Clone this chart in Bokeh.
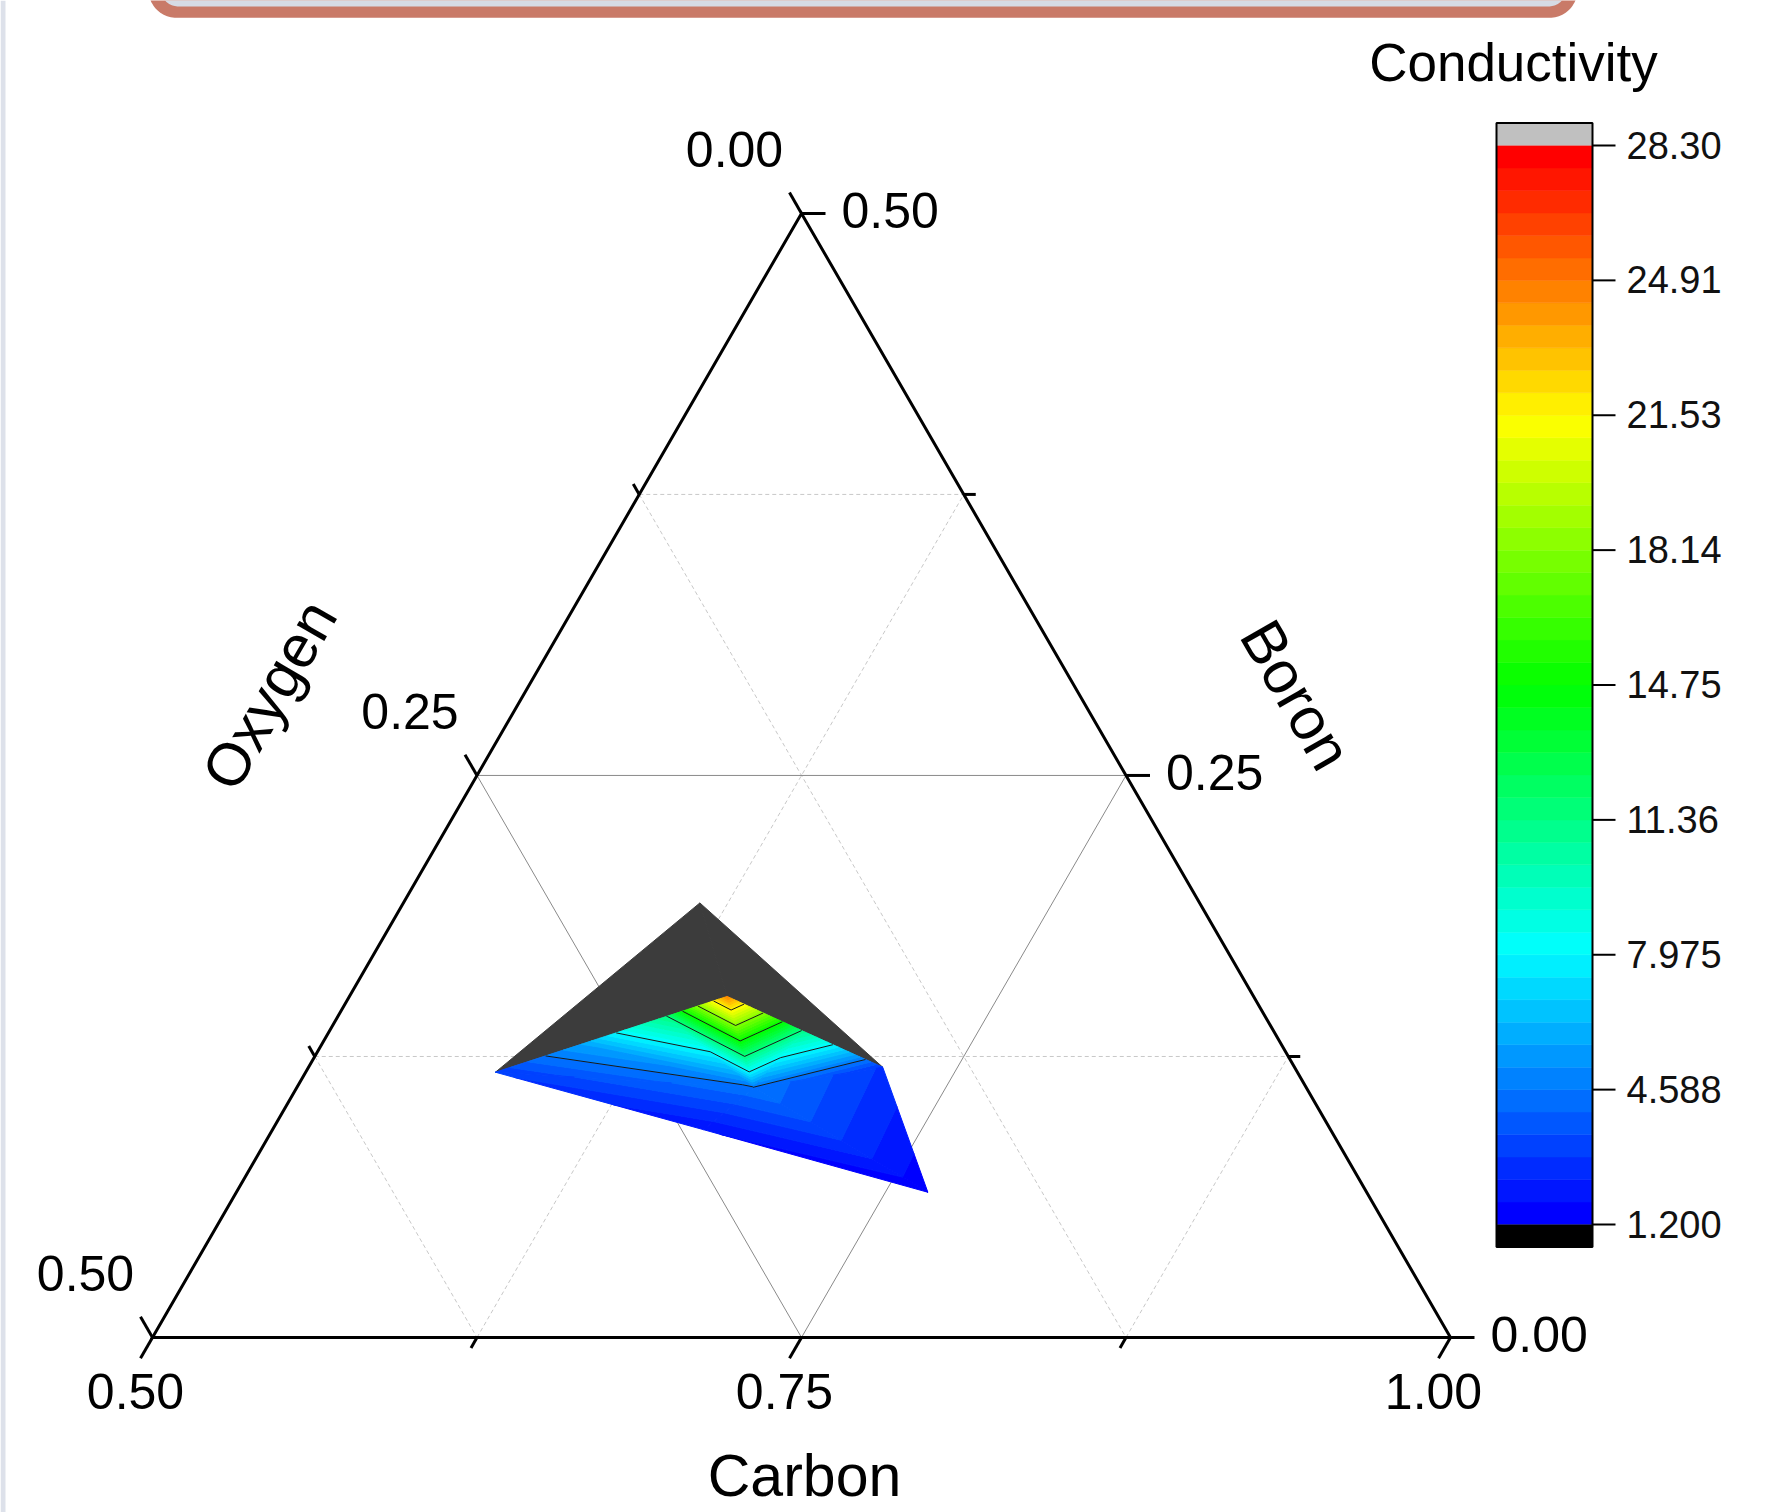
import numpy as np
from bokeh.plotting import figure
from bokeh.models import Range1d
from bokeh.embed import file_html
from bokeh.resources import INLINE
from bokeh.core.properties import value

nan = float("nan")

# ---------------- data ----------------
# measured compositions (fractions) and conductivity; NaN = no value
carbon = [0.5731, 0.6008, 0.6268, 0.6455, 0.6828, 0.7212, 0.7663, 0.6761, 0.6662, 0.6142]
oxygen = [0.3089, 0.2685, 0.2303, 0.2028, 0.1811, 0.1586, 0.1690, 0.2128, 0.2414, 0.1925]
boron = [0.1180, 0.1308, 0.1429, 0.1517, 0.1361, 0.1202, 0.0646, 0.1111, 0.0924, 0.1933]
conductivity = [3.0, 5.8, 11.4, 24.5, 11.0, 2.8, 1.3, 4.5, 1.8, nan]
triangles = [
    (0, 9, 3), (3, 9, 5),
    (0, 1, 7), (1, 2, 7), (2, 3, 7), (3, 4, 7),
    (4, 5, 7), (5, 6, 7), (7, 6, 8), (0, 7, 8),
]

carbon_ticks = [0.50, 0.75, 1.00]
carbon_minor = [0.625, 0.875]
boron_ticks = [0.00, 0.25, 0.50]
boron_minor = [0.125, 0.375]
oxygen_ticks = [0.00, 0.25, 0.50]
oxygen_minor = [0.125, 0.375]

level_min, level_max, n_bands = 1.2, 28.3, 48
line_every = 6
colorbar_labels = ["1.200", "4.588", "7.975", "11.36", "14.75", "18.14", "21.53", "24.91", "28.30"]
palette_stops = ["#0000ff", "#00ffff", "#00ff00", "#ffff00", "#ff0000"]
over_color, under_color, missing_color = "#c0c0c0", "#000000", "#3c3c3c"

FONT = value("Liberation Sans")

# ---------------- layout ----------------
S = 1298.0                 # px per ternary unit
PX0, PY0 = 152.0, 1337.0   # page position of the (0,0) corner
W, H = 1769, 1512


def tern_xy(c, o, b):
    c = np.asarray(c, float)
    o = np.asarray(o, float)
    b = np.asarray(b, float)
    s = c + o + b
    return 2 * c / s - 1 + b / s, np.sqrt(3) * b / s


def page(xp, yp):
    return (np.asarray(xp, float) - PX0) / S, (PY0 - np.asarray(yp, float)) / S


p = figure(width=W, height=H,
           x_range=Range1d((0 - PX0) / S, (W - PX0) / S),
           y_range=Range1d((PY0 - H) / S, PY0 / S),
           x_axis_type=None, y_axis_type=None,
           output_backend="svg", toolbar_location=None, min_border=0)
p.outline_line_color = None
p.background_fill_color = "white"
p.border_fill_color = "white"

# colorbar ranges
CB_LEFT, CB_W = 1496.0, 96.0
K = 1079.0 / (level_max - level_min)
CB_TOP_TICK = 145.0
p.extra_x_ranges = {"cbx": Range1d((0 - CB_LEFT) / CB_W, (W - CB_LEFT) / CB_W)}
p.extra_y_ranges = {"cby": Range1d(level_max - (H - CB_TOP_TICK) / K,
                                   level_max + CB_TOP_TICK / K)}

# ---------------- decoration: page edge strip and banner ----------------
sx, sy = page([0, 5, 5, 0], [0, 0, H, H])
p.patch(list(sx), list(sy), fill_color="#dde1ea", line_color=None)


def rounded_bottom(x0, x1, ybot, rad, ytop=-60.0):
    a1 = np.linspace(np.pi, 0.5 * np.pi, 24)
    a2 = np.linspace(0.5 * np.pi, 0.0, 24)
    xs = [x0] + list(x0 + rad + rad * np.cos(a1)) + list(x1 - rad + rad * np.cos(a2)) + [x1]
    ys = [ytop] + list(ybot - rad + rad * np.sin(a1)) + list(ybot - rad + rad * np.sin(a2)) + [ytop]
    return page(xs, ys)


ox_, oy_ = rounded_bottom(148.0, 1577.0, 17.3, 28.0)
p.patch(list(ox_), list(oy_), fill_color="#c97a68", line_color=None)
ix_, iy_ = rounded_bottom(160.0, 1566.0, 6.0, 18.0)
p.patch(list(ix_), list(iy_), fill_color="#d6dbe5", line_color=None)

# ---------------- grid lines ----------------
def const_b(b0):
    return tern_xy([0.5, 1 - b0], [0.5 - b0, 0], [b0, b0])


def const_o(o0):
    return tern_xy([0.5, 1 - o0], [o0, o0], [0.5 - o0, 0])


def const_c(c0):
    return tern_xy([c0, c0], [1 - c0, 0], [0, 1 - c0])


maj_xs, maj_ys, min_xs, min_ys = [], [], [], []
for b0 in boron_ticks[1:-1]:
    gx, gy = const_b(b0); maj_xs.append(list(gx)); maj_ys.append(list(gy))
for o0 in oxygen_ticks[1:-1]:
    gx, gy = const_o(o0); maj_xs.append(list(gx)); maj_ys.append(list(gy))
for c0 in carbon_ticks[1:-1]:
    gx, gy = const_c(c0); maj_xs.append(list(gx)); maj_ys.append(list(gy))
for b0 in boron_minor:
    gx, gy = const_b(b0); min_xs.append(list(gx)); min_ys.append(list(gy))
for o0 in oxygen_minor:
    gx, gy = const_o(o0); min_xs.append(list(gx)); min_ys.append(list(gy))
for c0 in carbon_minor:
    gx, gy = const_c(c0); min_xs.append(list(gx)); min_ys.append(list(gy))

p.multi_line(min_xs, min_ys, line_color="#c8c8c8", line_width=1, line_dash="4 3")
p.multi_line(maj_xs, maj_ys, line_color="#8a8a8a", line_width=1)

# ---------------- filled contour (linear on triangles) ----------------
levels = np.linspace(level_min, level_max, n_bands + 1)
stops = np.array([[int(h[i:i + 2], 16) for i in (1, 3, 5)] for h in palette_stops], float)
spos = np.linspace(0, 1, len(stops))
band_colors = []
for k in range(n_bands):
    t = k / (n_bands - 1)
    rgb = [int(round(np.interp(t, spos, stops[:, j]))) for j in range(3)]
    band_colors.append("#%02x%02x%02x" % tuple(rgb))

X, Y = tern_xy(carbon, oxygen, boron)
Z = np.array(conductivity, float)


def clip(poly, lv, keep_above):
    out = []
    n = len(poly)
    for i in range(n):
        P, Q = poly[i], poly[(i + 1) % n]
        pin = P[2] >= lv if keep_above else P[2] <= lv
        qin = Q[2] >= lv if keep_above else Q[2] <= lv
        if pin:
            out.append(P)
        if pin != qin:
            t = (lv - P[2]) / (Q[2] - P[2])
            out.append((P[0] + t * (Q[0] - P[0]), P[1] + t * (Q[1] - P[1]), lv))
    return out


bounds = [-np.inf] + list(levels) + [np.inf]
bcolors = [under_color] + band_colors + [over_color]
pxs, pys, pcs = [], [], []
mxs, mys = [], []
lxs, lys = [], []
line_levels = levels[::line_every]
for (i, j, k) in triangles:
    zs = Z[[i, j, k]]
    if np.any(np.isnan(zs)):
        mxs.append([X[i], X[j], X[k]]); mys.append([Y[i], Y[j], Y[k]])
        continue
    poly = [(X[i], Y[i], Z[i]), (X[j], Y[j], Z[j]), (X[k], Y[k], Z[k])]
    for bi in range(len(bounds) - 1):
        lo, hi = bounds[bi], bounds[bi + 1]
        if zs.max() < lo or zs.min() > hi:
            continue
        q = poly
        if np.isfinite(lo):
            q = clip(q, lo, True)
        if len(q) >= 3 and np.isfinite(hi):
            q = clip(q, hi, False)
        if len(q) >= 3:
            pxs.append([v[0] for v in q]); pys.append([v[1] for v in q]); pcs.append(bcolors[bi])
    for lv in line_levels:
        pts = []
        for a, b in ((i, j), (j, k), (k, i)):
            if (Z[a] - lv) * (Z[b] - lv) < 0:
                t = (lv - Z[a]) / (Z[b] - Z[a])
                pts.append((X[a] + t * (X[b] - X[a]), Y[a] + t * (Y[b] - Y[a])))
        if len(pts) == 2:
            lxs.append([pts[0][0], pts[1][0]]); lys.append([pts[0][1], pts[1][1]])

p.patches(mxs, mys, fill_color=missing_color, line_color=missing_color, line_width=1)
p.patches(pxs, pys, fill_color=pcs, line_color=pcs, line_width=1)
p.multi_line(lxs, lys, line_color="#1a1a1a", line_width=1)

# ---------------- triangle frame and ticks ----------------
vx, vy = tern_xy([0.5, 1.0, 0.5], [0.5, 0.0, 0.0], [0.0, 0.0, 0.5])
p.patch(list(vx), list(vy), fill_color=None, line_color="black", line_width=3, line_join="miter")

c_dir = np.array([-0.5, -np.sqrt(3) / 2])
b_dir = np.array([1.0, 0.0])
o_dir = np.array([-0.5, np.sqrt(3) / 2])
MAJ, MIN = 24.0 / S, 12.0 / S
t0x, t0y, t1x, t1y = [], [], [], []


def add_ticks(px_, py_, d, ln):
    for x_, y_ in zip(px_, py_):
        t0x.append(x_); t0y.append(y_)
        t1x.append(x_ + d[0] * ln); t1y.append(y_ + d[1] * ln)


cb = np.array(carbon_ticks); cm = np.array(carbon_minor)
bb = np.array(boron_ticks); bm = np.array(boron_minor)
ob = np.array(oxygen_ticks); om = np.array(oxygen_minor)
ctx, cty = tern_xy(cb, 1 - cb, 0 * cb)
cmx, cmy = tern_xy(cm, 1 - cm, 0 * cm)
btx, bty = tern_xy(1 - bb, 0 * bb, bb)
bmx, bmy = tern_xy(1 - bm, 0 * bm, bm)
otx, oty = tern_xy(0.5 + 0 * ob, ob, 0.5 - ob)
omx, omy = tern_xy(0.5 + 0 * om, om, 0.5 - om)
add_ticks(ctx, cty, c_dir, MAJ); add_ticks(cmx, cmy, c_dir, MIN)
add_ticks(btx, bty, b_dir, MAJ); add_ticks(bmx, bmy, b_dir, MIN)
add_ticks(otx, oty, o_dir, MAJ); add_ticks(omx, omy, o_dir, MIN)
p.segment(t0x, t0y, t1x, t1y, line_color="black", line_width=3)

# ---------------- tick labels & titles ----------------
TICK_FS = "50px"
p.text(x=ctx - 17 / S, y=cty - 53.5 / S, text=["%.2f" % v for v in carbon_ticks],
       text_align="center", text_baseline="middle", text_font=FONT,
       text_font_size=TICK_FS, text_color="black")
p.text(x=btx + 40 / S, y=bty + 3 / S, text=["%.2f" % v for v in boron_ticks],
       text_align="left", text_baseline="middle", text_font=FONT,
       text_font_size=TICK_FS, text_color="black")
p.text(x=otx - 67 / S, y=oty + 64 / S, text=["%.2f" % v for v in oxygen_ticks],
       text_align="center", text_baseline="middle", text_font=FONT,
       text_font_size=TICK_FS, text_color="black")

TITLE_FS = "60px"
mcx, mcy = tern_xy([0.75], [0.25], [0.0])
p.text(x=mcx + 3 / S, y=mcy - 138 / S, text=["Carbon"], text_align="center",
       text_baseline="middle", text_font=FONT, text_font_size="59px", text_color="black")
mox, moy = tern_xy([0.5], [0.25], [0.25])
p.text(x=mox - 207.5 / S, y=moy + 80.5 / S, text=["Oxygen"], angle=np.pi / 3,
       text_align="center", text_baseline="middle", text_font=FONT,
       text_font_size=TITLE_FS, text_color="black")
mbx, mby = tern_xy([0.75], [0.0], [0.25])
p.text(x=mbx + 170 / S, y=mby + 80.5 / S, text=["Boron"], angle=-np.pi / 3,
       text_align="center", text_baseline="middle", text_font=FONT,
       text_font_size=TITLE_FS, text_color="black")

# ---------------- colour bar ----------------
bandh = (level_max - level_min) / n_bands
p.quad(left=0, right=1, bottom=levels[:-1], top=levels[1:], fill_color=band_colors,
       line_color=band_colors, line_width=0.5, x_range_name="cbx", y_range_name="cby")
p.quad(left=[0], right=[1], bottom=[level_max], top=[level_max + bandh], fill_color=over_color,
       line_color=None, x_range_name="cbx", y_range_name="cby")
p.quad(left=[0], right=[1], bottom=[level_min - bandh], top=[level_min], fill_color=under_color,
       line_color=None, x_range_name="cbx", y_range_name="cby")
p.quad(left=[0], right=[1], bottom=[level_min - bandh], top=[level_max + bandh], fill_color=None,
       line_color="black", line_width=2, x_range_name="cbx", y_range_name="cby")
cb_ticks = levels[::line_every]
p.segment(x0=[1] * len(cb_ticks), x1=[1 + 23 / CB_W] * len(cb_ticks), y0=cb_ticks, y1=cb_ticks,
          line_color="black", line_width=2, x_range_name="cbx", y_range_name="cby")
p.text(x=[1 + 34 / CB_W] * len(cb_ticks), y=cb_ticks + 0.5 / K, text=colorbar_labels,
       text_align="left", text_baseline="middle", text_font=FONT, text_font_size="38px",
       text_color="#111111", x_range_name="cbx", y_range_name="cby")
p.text(x=[(1513 - CB_LEFT) / CB_W], y=[level_max + (CB_TOP_TICK - 62) / K], text=["Conductivity"],
       text_align="center", text_baseline="middle", text_font=FONT, text_font_size="53px",
       text_color="black", x_range_name="cbx", y_range_name="cby")

open("out.html", "w").write(file_html(p, INLINE))
